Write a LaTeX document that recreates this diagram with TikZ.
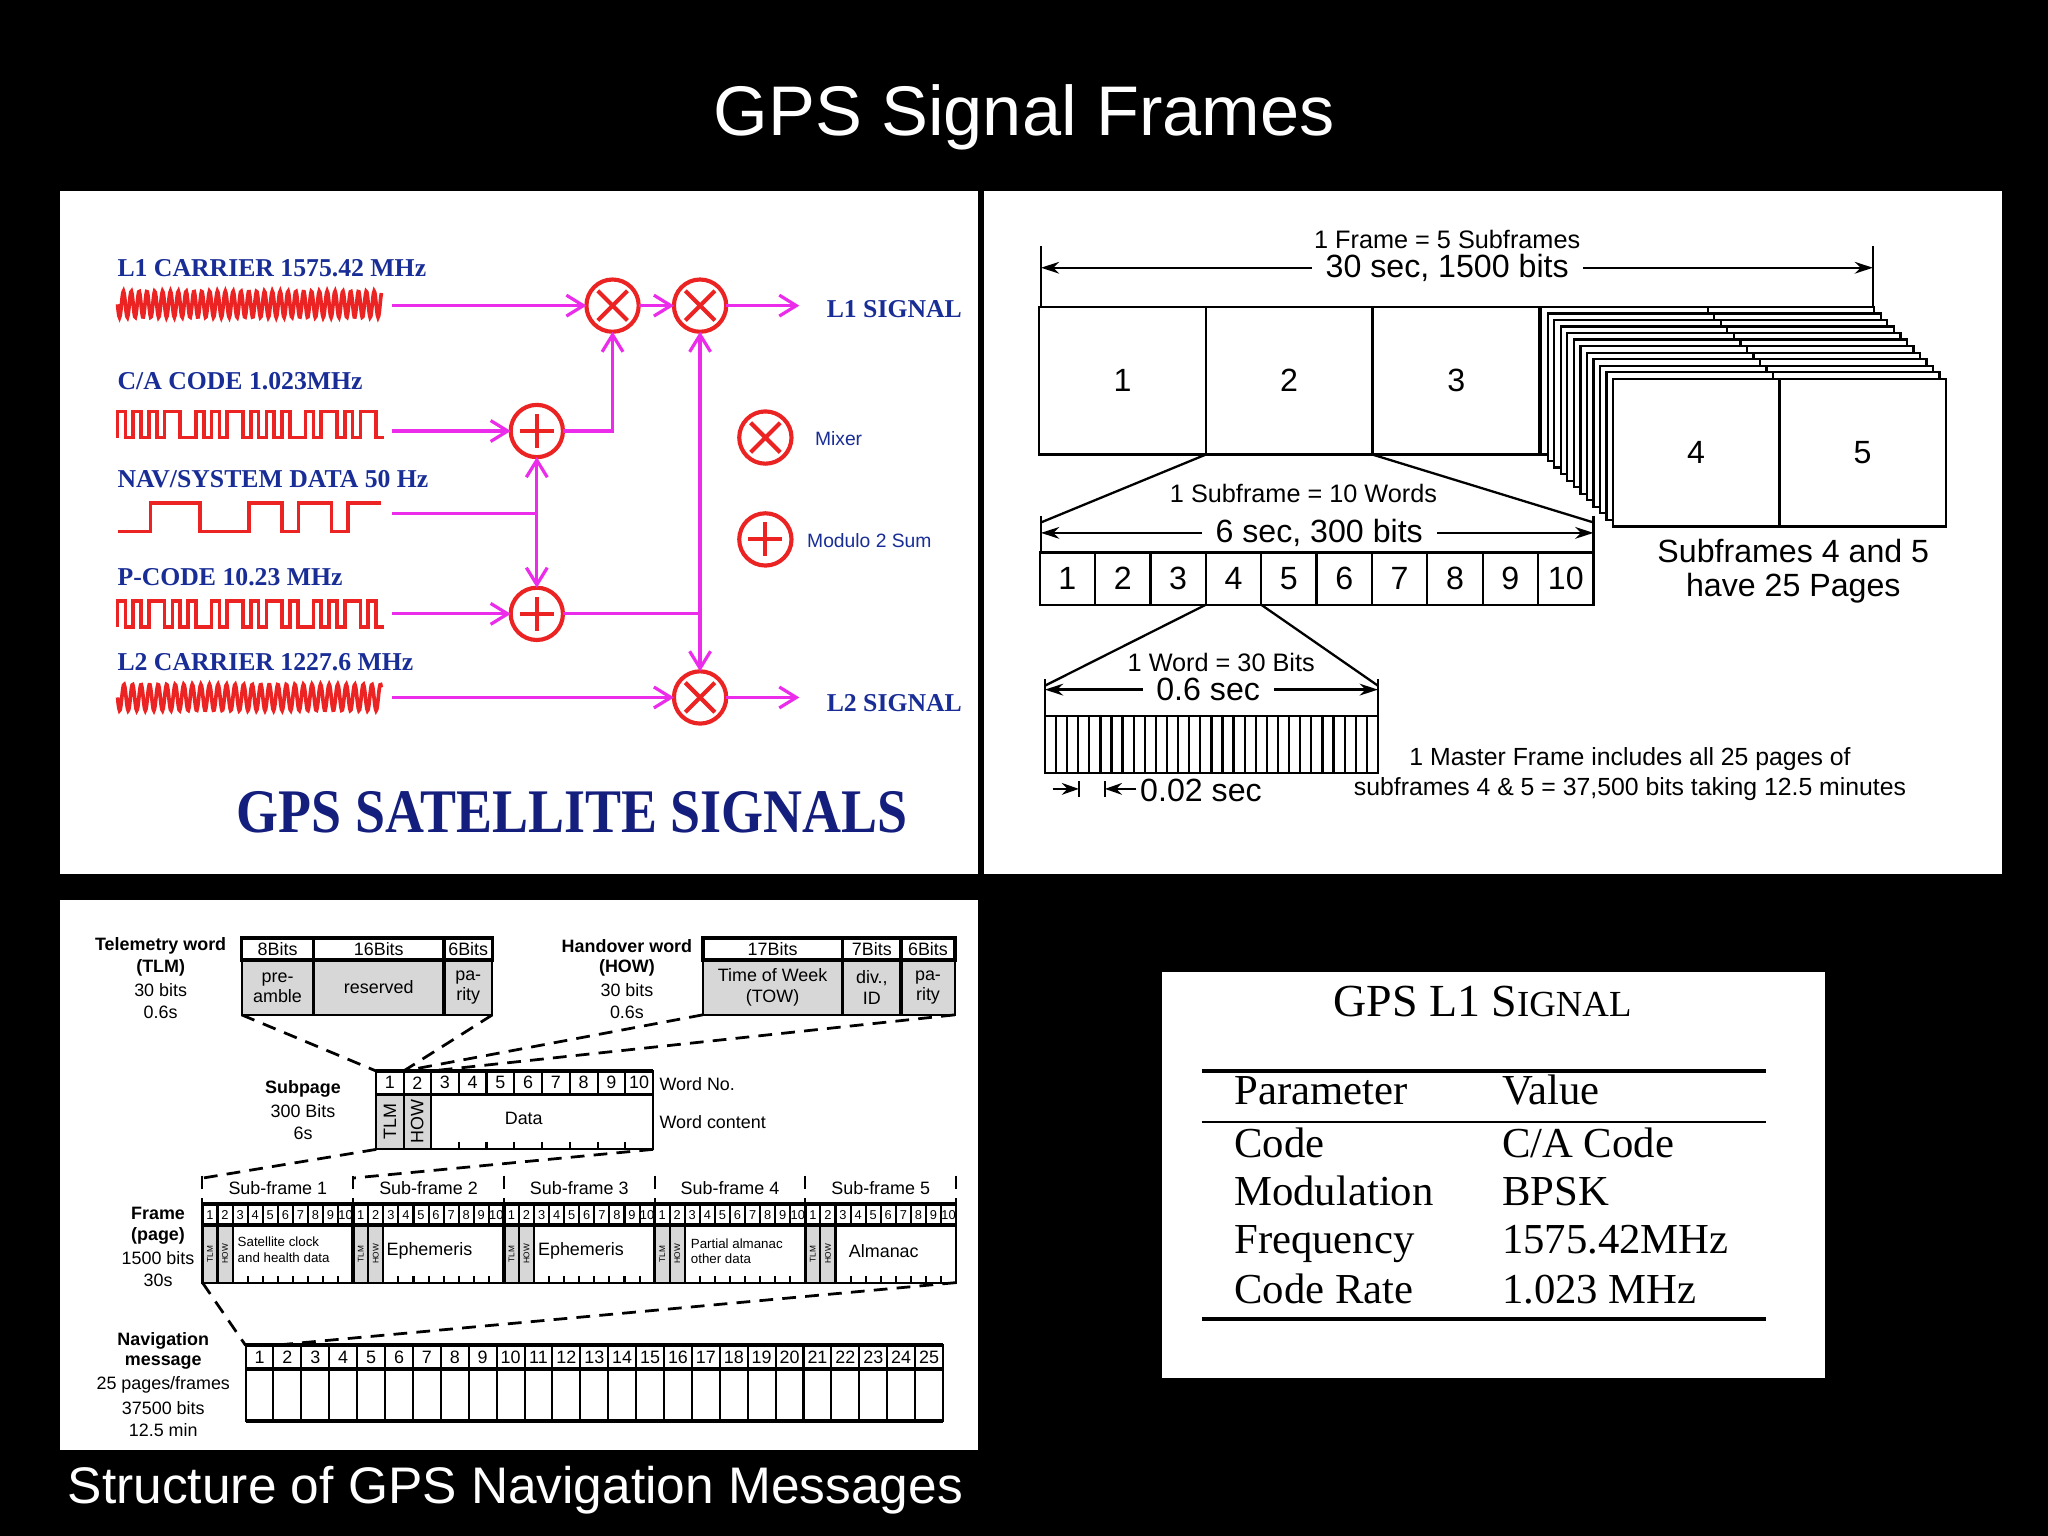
\documentclass[tikz,border=0pt]{standalone}
\usepackage{fontspec}
\setmainfont{Liberation Sans}
\newfontfamily\serif{Liberation Serif}
\usetikzlibrary{arrows.meta,calc}
\newcommand\fs[2]{\fontsize{#1}{#2}\selectfont}
\definecolor{mag}{RGB}{235,45,235}
\definecolor{wred}{RGB}{235,35,35}
\definecolor{lblue}{RGB}{25,45,150}
\definecolor{navy}{RGB}{20,30,125}
\definecolor{cellgray}{RGB}{215,215,215}
\newcommand\sqwave[5]{\draw[wav] (#1,#4) \foreach \b [count=\i from 0] in {#5} { -- ({#1+\i*#2},{#4-\b*(#4-#3)}) -- ({#1+(\i+1)*#2},{#4-\b*(#4-#3)}) };}
\begin{document}
\begin{tikzpicture}[x=0.01cm,y=-0.01cm,
 every node/.style={inner sep=0,outer sep=0},
 sig/.style={mag,line width=0.7pt},
 sigar/.style={sig,-{Straight Barb[length=1.3mm,width=1.6mm]}},
 wav/.style={wred,line width=0.8pt},
 op/.style={circle,draw=wred,line width=0.9pt,minimum size=0.4cm},
 opl/.style={wred,line width=0.9pt},
 lab/.style={lblue,font=\serif\bfseries\fs{5.6}{7},anchor=base west},
 trt/.style={font=\fs{5.5}{6.6}},
 trb/.style={font=\fs{7}{8.4}},
 dim/.style={line width=0.5pt,{Stealth[length=1.4mm,width=0.9mm]}-{Stealth[length=1.4mm,width=0.9mm]}},
 bx/.style={draw,line width=0.5pt,minimum width=1.275cm,minimum height=1.13cm,font=\fs{7}{8.4}},
 wc/.style={draw,line width=0.5pt,minimum width=0.424cm,minimum height=0.4cm,font=\fs{7}{8.4}},
 sm/.style={font=\fs{3.9}{4.4}},
 smb/.style={font=\bfseries\fs{3.9}{4.4}},
 dsh/.style={densely dashed,line width=0.6pt},
 tb/.style={font=\serif\fs{9.3}{11},anchor=base west}]
% background & panels
\fill[black] (0,0) rectangle (1568,1176);
\fill[white] (46,146) rectangle (749,669);
\fill[white] (753,146) rectangle (1533,669);
\fill[white] (46,689) rectangle (749,1110);
\node[white,font=\fs{15.3}{18}] (title) at (784,90) {GPS Signal Frames};
\node[white,font=\fs{11.2}{13},anchor=west] (cap) at (52,1141) {Structure of GPS Navigation Messages};

% ===== top-left: satellite signals
\node[lab] (t1) at (90,212) {L1 CARRIER 1575.42 MHz};
\node[lab] (t2) at (90,298) {C/A CODE 1.023MHz};
\node[lab] (t3) at (90,373) {NAV/SYSTEM DATA 50 Hz};
\node[lab] (t4) at (90,448) {P-CODE 10.23 MHz};
\node[lab] (t5) at (90,513) {L2 CARRIER 1227.6 MHz};
\draw[wav] plot[domain=90:292,samples=400] (\x,{233+10*sin(60*(\x-90))});
\draw[wav] plot[domain=90:292,samples=400] (\x,{534+10*sin(55*(\x-90))});
\sqwave{90}{6}{315}{335}{1,0,1,0,1,0,1,1,0,0,1,0,1,0,1,1,0,1,0,1,0,1,0,0,1,0,1,1,0,1,0,1,1,0}
\sqwave{90}{12.6}{385}{407}{0,0,1,1,1,0,0,0,1,1,0,1,1,0,1,1}
\sqwave{90}{6}{460}{480}{1,0,1,0,1,1,0,1,0,1,0,0,1,0,1,1,0,1,0,1,1,0,1,0,0,1,0,1,0,1,1,0,1,0}
\node[op] (m1) at (469,234) {};
\node[op] (m2) at (536,234) {};
\node[op] (m3) at (536,534) {};
\node[op] (s1) at (411,330) {};
\node[op] (s2) at (411,470) {};
\node[op] (lm) at (586,335) {};
\node[op] (ls) at (586,413) {};
\foreach \n in {m1,m2,m3,lm}{
 \draw[opl] ($(\n)!0.8!(\n.north west)$)--($(\n)!0.8!(\n.south east)$)
            ($(\n)!0.8!(\n.north east)$)--($(\n)!0.8!(\n.south west)$);}
\foreach \n in {s1,s2,ls}{
 \draw[opl] ($(\n)!0.65!(\n.north)$)--($(\n)!0.65!(\n.south)$)
            ($(\n)!0.65!(\n.west)$)--($(\n)!0.65!(\n.east)$);}
\coordinate (l1s) at (300,234); \coordinate (l1o) at (612,234);
\coordinate (cas) at (300,330);
\coordinate (navs) at (300,393); \coordinate (navj) at (411,393);
\coordinate (ps) at (300,470); \coordinate (pj) at (536,470);
\coordinate (l2s) at (300,534); \coordinate (l2o) at (612,534);
\draw[sigar] (l1s)--(m1);
\draw[sigar] (m1)--(m2);
\draw[sigar] (m2)--(l1o);
\draw[sigar] (cas)--(s1);
\draw[sigar] (s1.east) -| (m1.south);
\draw[sig] (navs)--(navj);
\draw[sigar] (navj)--(s1);
\draw[sigar] (navj)--(s2);
\draw[sigar] (ps)--(s2);
\draw[sig] (s2)--(pj);
\draw[sigar] (pj)--(m2);
\draw[sigar] (pj)--(m3);
\draw[sigar] (l2s)--(m3);
\draw[sigar] (m3)--(l2o);
\node[lab] (o1) at (633,243) {L1 SIGNAL};
\node[lab] (o2) at (633,545) {L2 SIGNAL};
\node[lblue,font=\fs{4.2}{5},anchor=west] (lmt) at (624,336) {Mixer};
\node[lblue,font=\fs{4.2}{5},anchor=west] (lst) at (618,414) {Modulo 2 Sum};
\node[navy,font=\serif\bfseries\fs{13.5}{16},xscale=0.87] (gss) at (438,622) {GPS SATELLITE SIGNALS};

% ===== top-right: frame structure
\draw[line width=0.5pt] (797,188)--(797,235) (1434,188)--(1434,235);
\coordinate (fa) at (797,205); \coordinate (fb) at (1434,205);
\draw[dim] (fa)--(fb);
\node[trt] (ft1) at (1108,183) {1 Frame = 5 Subframes};
\node[trb,fill=white,inner xsep=3pt,inner ysep=1pt] (ft2) at (1108,205) {30 sec, 1500 bits};
\node[bx] (b1) at (859.5,291.5) {1};
\node[bx] (b2) at (987,291.5) {2};
\node[bx] (b3) at (1115,291.5) {3};
\foreach \k in {0,...,11}{
 \draw[fill=white,line width=0.5pt] ({1180+5*\k},{235+5*\k}) rectangle ++(255,113);
 \draw[line width=0.5pt] ({1307.5+5*\k},{235+5*\k})--++(0,113);}
\node[bx] (b4) at (1298.5,346.5) {4};
\node[bx] (b5) at (1426,346.5) {5};
\node[trb] (sf1) at (1373,422) {Subframes 4 and 5};
\node[trb] (sf2) at (1373,450) {have 25 Pages};
\coordinate (sa) at (797,400); \coordinate (sb) at (1220,400);
\draw[line width=0.5pt] (b2.south west)--(sa) (b2.south east)--(sb);
\draw[line width=0.5pt] (797,395)--(797,423) (1220,395)--(1220,423);
\coordinate (sda) at (797,408); \coordinate (sdb) at (1220,408);
\draw[dim] (sda)--(sdb);
\node[trt] (st1) at (998,378) {1 Subframe = 10 Words};
\node[trb,fill=white,inner xsep=3pt,inner ysep=1pt] (st2) at (1010,408) {6 sec, 300 bits};
\foreach \i in {1,...,10}
 \node[wc] (w\i) at ({796+42.4*(\i-0.5)},443) {\i};
\coordinate (wa) at (800,525); \coordinate (wb) at (1055,525);
\draw[line width=0.5pt] (w4.south west)--(wa) (w4.south east)--(wb);
\draw[line width=0.5pt] (800,520)--(800,548) (1055,520)--(1055,548);
\coordinate (wda) at (800,528); \coordinate (wdb) at (1055,528);
\draw[dim] (wda)--(wdb);
\node[trt] (wt1) at (935,507) {1 Word = 30 Bits};
\node[trb,fill=white,inner xsep=3pt,inner ysep=1pt] (wt2) at (925,528) {0.6 sec};
\draw[line width=0.5pt] (800,548) rectangle (1055,592);
\foreach \j in {1,...,29} \draw[line width=0.5pt] ({800+8.5*\j},548)--({800+8.5*\j},592);
\coordinate (ba) at (806,604); \coordinate (bb) at (826,604);
\coordinate (bc) at (870,604); \coordinate (bd) at (846,604);
\draw[line width=0.5pt,-{Stealth[length=1.3mm,width=0.9mm]}] (ba)--(bb);
\draw[line width=0.5pt,-{Stealth[length=1.3mm,width=0.9mm]}] (bc)--(bd);
\draw[line width=0.5pt] (826,598)--(826,610) (846,598)--(846,610);
\node[trb,anchor=west] (bt) at (873,605) {0.02 sec};
\node[trt,font=\fs{5.4}{6.5}] (mf1) at (1248,581) {1 Master Frame includes all 25 pages of};
\node[trt,font=\fs{5.4}{6.5}] (mf2) at (1248,604) {subframes 4 \& 5 = 37,500 bits taking 12.5 minutes};

% ===== bottom-left: navigation message structure
\begin{scope}[line width=0.45pt]
\node[smb] at (123,724) {Telemetry word};
\node[smb] at (123,741) {(TLM)};
\node[sm] at (123,758) {30 bits};
\node[sm] at (123,775) {0.6s};
\draw[fill=cellgray] (185,735) rectangle (377,777);
\draw[line width=0.8pt] (185,718) rectangle (377,735);
\draw[line width=0.8pt] (240,718)--(240,777) (340,718)--(340,777);
\node[sm] at (212.5,727) {8Bits}; \node[sm] at (290,727) {16Bits}; \node[sm] at (358.5,727) {6Bits};
\node[sm,align=center] at (212.5,756) {pre-\\amble};
\node[sm] at (290,756) {reserved};
\node[sm,align=center] at (358.5,756) {pa-\\rity};
\node[smb] at (480,724) {Handover word};
\node[smb] at (480,741) {(HOW)};
\node[sm] at (480,758) {30 bits};
\node[sm] at (480,775) {0.6s};
\draw[fill=cellgray] (538,735) rectangle (731,777);
\draw[line width=0.8pt] (538,718) rectangle (731,735);
\draw[line width=0.8pt] (645,718)--(645,777) (690,718)--(690,777);
\node[sm] at (591.5,727) {17Bits}; \node[sm] at (667.5,727) {7Bits}; \node[sm] at (710.5,727) {6Bits};
\node[sm,align=center] at (591.5,756) {Time of Week\\(TOW)};
\node[sm,align=center] at (667.5,756) {div.,\\ID};
\node[sm,align=center] at (710.5,756) {pa-\\rity};
\node[smb] at (232,834) {Subpage};
\node[sm] at (232,851) {300 Bits};
\node[sm] at (232,868) {6s};
\fill[cellgray] (288,838) rectangle (330,880);
\draw (288,820) rectangle (500,880);
\draw[line width=0.8pt] (288,820)--(500,820) (288,838)--(500,838);
\draw (309,820)--(309,880) (330,820)--(330,880);
\foreach \k in {1,...,7} \draw ({330+21.25*\k},820)--({330+21.25*\k},838) ({330+21.25*\k},874)--({330+21.25*\k},880);
\node[sm] at (298.5,829) {1}; \node[sm] at (319.5,829) {2};
\foreach \k in {3,...,10} \node[sm] at ({330+21.25*(\k-2.5)},829) {\k};
\node[sm,rotate=90] at (298.5,859) {TLM};
\node[sm,rotate=90] at (319.5,859) {HOW};
\node[sm] at (401,856) {Data};
\node[sm,anchor=west] at (505,830) {Word No.};
\node[sm,anchor=west] at (505,859) {Word content};
\node[smb] at (121,929) {Frame};
\node[smb] at (121,946) {(page)};
\node[sm] at (121,963) {1500 bits};
\node[sm] at (121,980) {30s};
\foreach \s/\lab in {0/Sub-frame 1,1/Sub-frame 2,2/Sub-frame 3,3/Sub-frame 4,4/Sub-frame 5}
 \node[sm] at ({155+115.4*(\s+0.5)},910) {\lab};
\foreach \s in {0,...,5} \draw[dsh,line width=0.45pt] ({155+115.4*\s},900)--({155+115.4*\s},922);
\foreach \s in {0,...,4}{
 \fill[cellgray] ({155+115.4*\s},938) rectangle ({155+115.4*\s+23.08},982);
 \foreach \c in {1,...,9} \draw ({155+115.4*\s+11.54*\c},922)--({155+115.4*\s+11.54*\c},938) ({155+115.4*\s+11.54*\c},977)--({155+115.4*\s+11.54*\c},982);
 \draw ({155+115.4*\s+11.54},938)--({155+115.4*\s+11.54},982) ({155+115.4*\s+23.08},938)--({155+115.4*\s+23.08},982);
 \draw[line width=0.8pt] ({155+115.4*\s},922)--({155+115.4*\s},982);
 \foreach \c in {1,...,10} \node[font=\fs{2.8}{3}] at ({155+115.4*\s+11.54*(\c-0.5)},930) {\c};
 \node[font=\fs{1.8}{2},rotate=90] at ({155+115.4*\s+5.77},960) {TLM};
 \node[font=\fs{1.8}{2},rotate=90] at ({155+115.4*\s+17.31},960) {HOW};
}
\draw (155,922) rectangle (732,982);
\draw[line width=0.8pt] (155,922)--(732,922) (155,938)--(732,938);
\node[font=\fs{2.9}{3.4},align=left,anchor=west] at (182,957) {Satellite clock\\and health data};
\node[sm,anchor=west] at (296,958) {Ephemeris};
\node[sm,anchor=west] at (412,958) {Ephemeris};
\node[font=\fs{2.9}{3.4},align=left,anchor=west] at (529,958) {Partial almanac\\other data};
\node[sm,anchor=west] at (650,958) {Almanac};
\node[smb] at (125,1027) {Navigation};
\node[smb] at (125,1043) {message};
\node[sm] at (125,1060) {25 pages/frames};
\node[sm] at (125,1078) {37500 bits};
\node[sm] at (125,1095) {12.5 min};
\draw (188,1030) rectangle (722,1088);
\draw[line width=0.8pt] (188,1030)--(722,1030) (188,1048)--(722,1048) (188,1088)--(722,1088);
\foreach \k in {1,...,24} \draw ({188+21.36*\k},1030)--({188+21.36*\k},1088);
\foreach \k in {1,...,25} \node[sm] at ({188+21.36*(\k-0.5)},1039) {\k};
\draw[dsh] (185,777)--(288,820) (377,777)--(309,820);
\draw[dsh] (538,777)--(309,820) (731,777)--(330,820);
\draw[dsh] (288,880)--(155,902) (500,880)--(270,902);
\draw[dsh] (155,982)--(188,1030) (732,982)--(210,1030);
\end{scope}

% ===== table
\fill[white] (890,744) rectangle (1397,1055);
\node[font=\serif\fs{10}{12}] (tt) at (1135,767) {GPS L1 S{\fs{8}{10}IGNAL}};
\draw[line width=0.8pt] (920,820)--(1352,820);
\draw[line width=0.5pt] (920,859)--(1352,859);
\draw[line width=0.8pt] (920,1010)--(1352,1010);
\node[tb] at (945,846) {Parameter}; \node[tb] at (1150,846) {Value};
\node[tb] at (945,886) {Code}; \node[tb] at (1150,886) {C/A Code};
\node[tb] at (945,923) {Modulation}; \node[tb] at (1150,923) {BPSK};
\node[tb] at (945,960) {Frequency}; \node[tb] at (1150,960) {1575.42MHz};
\node[tb] at (945,998) {Code Rate}; \node[tb] at (1150,998) {1.023 MHz};
\end{tikzpicture}
\end{document}
